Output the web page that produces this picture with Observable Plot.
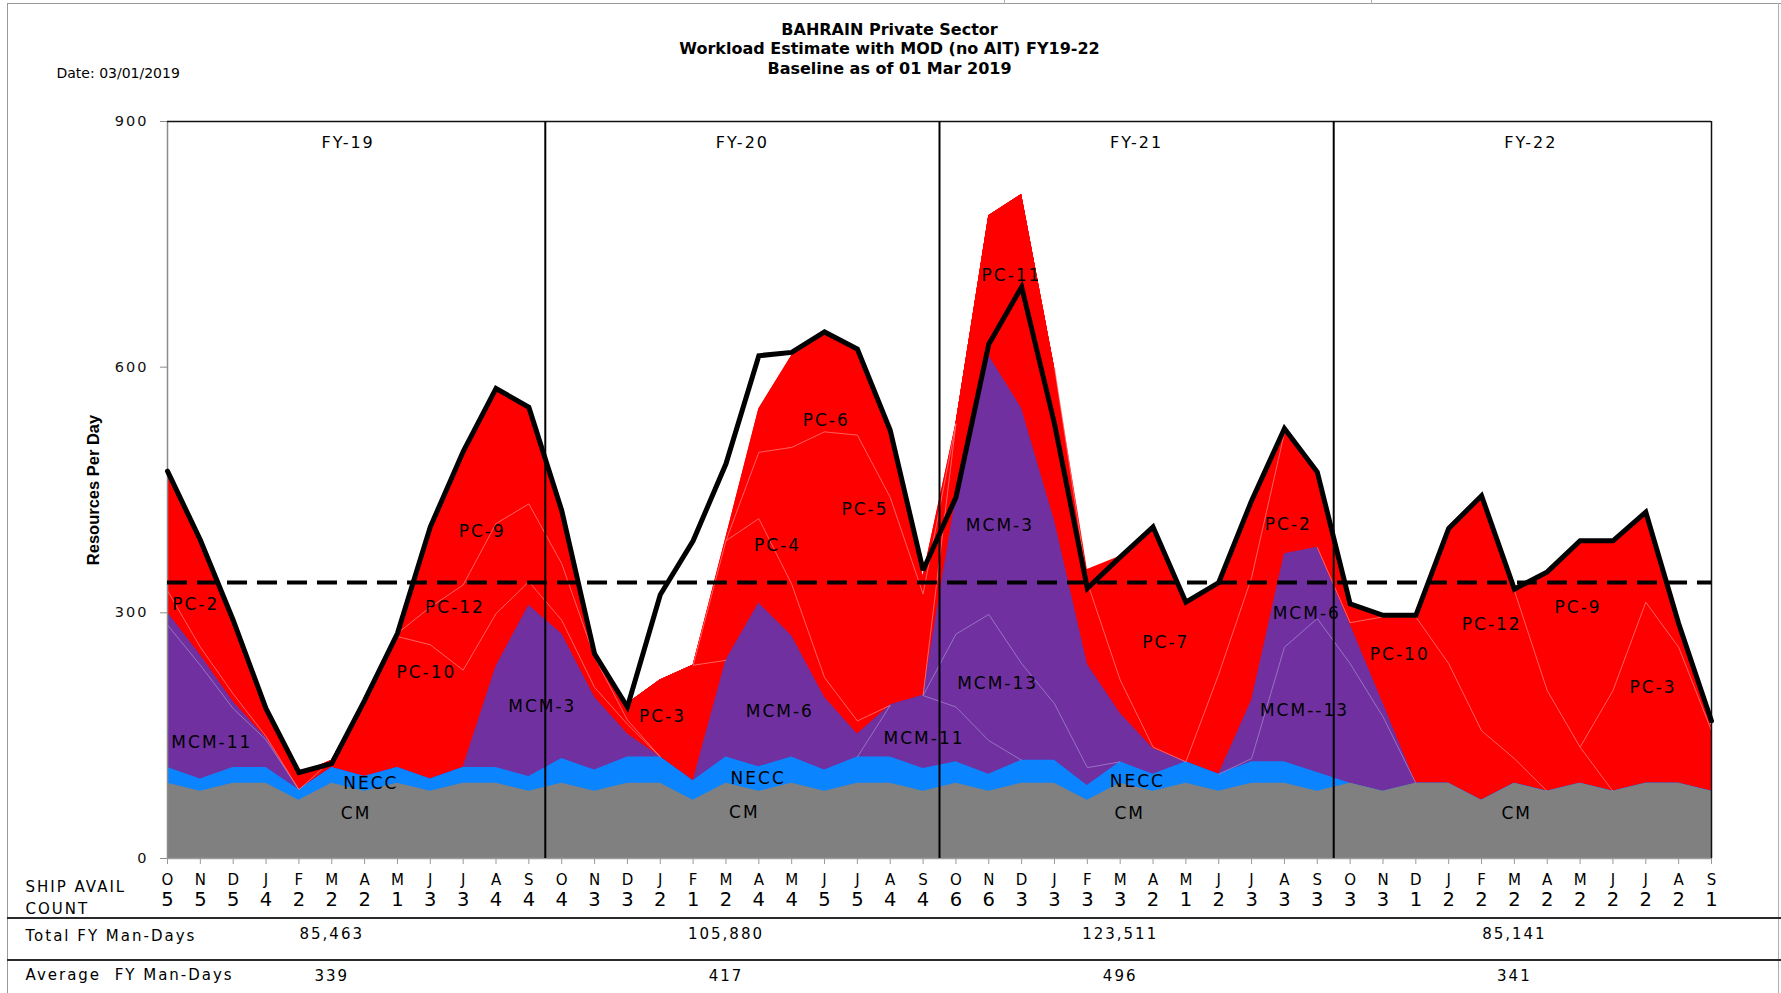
<!DOCTYPE html>
<html><head><meta charset="utf-8">
<script src="https://cdn.jsdelivr.net/npm/d3@7"></script>
<script src="https://cdn.jsdelivr.net/npm/@observablehq/plot@0.6"></script>
<style>
html,body{margin:0;padding:0;background:#fff;}
#wrap{position:relative;width:1781px;height:993px;overflow:hidden;background:#fff;}
.deco{position:absolute;pointer-events:none;}
g[aria-label="y-axis tick label"] text{letter-spacing:2px;}
</style></head><body>
<div id="wrap"></div>
<script>
// ---------- DATA ----------
const monthLetters = ["O","N","D","J","F","M","A","M","J","J","A","S",
                      "O","N","D","J","F","M","A","M","J","J","A","S",
                      "O","N","D","J","F","M","A","M","J","J","A","S",
                      "O","N","D","J","F","M","A","M","J","J","A","S"];
const shipAvailCount = [5,5,5,4,2,2,2,1,3,3,4,4,
                        4,3,3,2,1,2,4,4,5,5,4,4,
                        6,6,3,3,3,3,2,1,2,3,3,3,
                        3,3,1,2,2,2,2,2,2,2,2,1];
const fyNames = ["FY-19","FY-20","FY-21","FY-22"];
const fyStartMonth = [0,12,24,36];
const totalFYManDays = ["85,463","105,880","123,511","85,141"];
const averageFYManDays = ["339","417","496","341"];
const yTicks = [0,300,600,900];
const dashedLevel = 337;

const cm = [92,82,92,92,71,92,82,92,82,92,92,82,
            92,82,92,92,71,92,82,92,82,92,92,82,
            92,82,92,92,71,92,82,92,82,92,92,82,
            92,82,92,92,71,92,82,92,82,92,92,82];
const necc = [19,15,19,19,13,19,18,19,15,19,19,18,
              30,26,32,32,24,32,30,32,26,32,32,28,
              26,21,28,28,18,26,21,26,21,26,26,23,
              0,0,0,0,0,0,0,0,0,0,0,0];
const mcm11 = [174,139,72,34,0,0,0,0,0,0,0,0,
               0,0,0,0,0,0,0,0,0,0,63,89,
               67,41,0,0,0,0,0,0,0,0,0,0,
               0,0,0,0,0,0,0,0,0,0,0,0];
const mcm13 = [15,12,8,2,0,0,0,0,0,0,0,0,
               0,0,0,0,0,0,0,0,0,0,0,0,
               89,154,118,69,22,0,0,0,0,4,140,188,
               146,91,0,0,0,0,0,0,0,0,0,0];
const mcm3 = [0,0,0,0,0,0,0,0,0,0,123,209,
              152,89,28,0,0,0,0,0,0,0,0,0,
              166,316,311,223,126,59,31,0,0,0,0,0,
              0,0,0,0,0,0,0,0,0,0,0,0];
const mcm6 = [0,0,0,0,0,0,0,0,0,0,0,0,
              0,0,0,0,0,118,200,148,89,28,0,0,
              0,0,0,0,0,0,0,0,0,71,114,87,
              48,17,0,0,0,0,0,0,0,0,0,0];
const pcOther = [27,10,10,2,0,0,0,0,0,0,0,0,
                 0,0,0,0,0,0,0,0,0,0,0,0,
                 0,0,0,0,0,0,0,0,0,0,0,0,
                 0,0,0,0,0,0,0,0,0,0,0,0];
const pc10 = [0,0,0,0,0,9,93,160,164,119,65,29,
              17,12,12,0,0,0,0,0,0,0,0,0,
              0,0,0,0,0,0,0,0,0,0,0,0,
              2,105,203,146,85,30,0,0,0,0,0,0];
const pc12 = [0,0,0,0,0,0,0,4,46,104,110,95,
              69,37,5,0,0,0,0,0,0,0,0,0,
              0,0,0,0,0,0,0,0,0,0,0,0,
              0,0,0,165,287,205,123,44,0,0,0,0];
const pc3 = [0,0,0,0,0,0,0,0,0,0,0,0,
             0,0,20,94,141,0,0,0,0,0,0,0,
             0,0,0,0,0,0,0,0,0,0,0,0,
             0,0,0,0,0,0,0,0,123,221,166,74];
const pc9 = [0,0,0,0,0,0,0,0,98,163,165,119,
             65,4,0,0,0,0,0,0,0,0,0,0,
             0,0,0,0,0,0,0,0,0,0,0,0,
             0,0,0,0,0,2,145,252,183,110,29,4];
const pc11 = [0,0,0,0,0,0,0,0,0,0,0,0,
              0,0,0,0,0,0,0,0,0,0,0,0,
              91,171,262,188,100,41,2,0,0,0,0,0,
              0,0,0,0,0,0,0,0,0,0,0,0];
const pc2 = [142,127,86,31,18,0,0,0,0,0,0,0,
             0,0,0,0,0,0,0,0,0,0,0,0,
             0,0,0,0,0,0,0,0,122,150,148,90,
             25,2,2,0,0,0,0,0,0,0,0,0];
const pc4 = [0,0,0,0,0,0,0,0,0,0,0,0,
             0,0,0,0,0,146,103,63,24,16,0,0,
             0,0,0,0,0,0,0,0,0,0,0,0,
             0,0,0,0,0,0,0,0,0,0,0,0];
const pc5 = [0,0,0,0,0,0,0,0,0,0,0,0,
             0,0,0,0,0,0,81,167,300,349,254,124,
             0,0,0,0,0,0,0,0,0,0,0,0,
             0,0,0,0,0,0,0,0,0,0,0,0];
const pc6 = [0,0,0,0,0,0,0,0,0,0,0,0,
             0,0,0,0,0,4,53,112,122,104,82,22,
             0,0,0,0,0,0,0,0,0,0,0,0,
             0,0,0,0,0,0,0,0,0,0,0,0];
const pc7 = [0,0,0,0,0,0,0,0,0,0,0,0,
             0,0,0,0,0,0,0,0,0,0,0,0,
             0,0,0,0,16,151,268,195,112,94,0,0,
             0,0,0,0,0,0,0,0,0,0,0,0];
const blackLine = [473,389,291,183,105,116,193,275,405,497,574,551,
                   425,250,185,322,388,482,614,618,643,622,523,352,
                   441,628,698,531,330,368,405,313,337,437,525,472,
                   311,297,297,403,443,329,350,388,388,423,287,168];
// in-chart labels: [text, month index, value]
const areaLabels = [
  ["PC-2",0.86,310],["MCM-11",1.35,141],["NECC",6.19,92],["CM",5.74,55],["PC-10",7.88,227],["PC-12",8.75,306],["PC-9",9.58,399],["MCM-3",11.41,185],
  ["PC-3",15.07,173],["MCM-6",18.64,180],["NECC",17.98,98],["CM",17.56,56],["PC-4",18.57,382],["PC-6",20.05,535],["PC-5",21.23,426],["MCM-11",23.03,146],
  ["PC-11",25.69,712],["MCM-3",25.34,407],["MCM-13",25.27,214],["NECC",29.52,94],["CM",29.29,55],["PC-7",30.39,264],["PC-2",34.12,408],["MCM-6",34.68,299],["MCM--13",34.61,181],
  ["PC-10",37.51,249],["PC-12",40.31,286],["PC-9",42.94,306],["PC-3",45.22,209],["CM",41.07,55]
];
const rowLabels = ["SHIP AVAIL","COUNT","Total FY Man-Days","Average  FY Man-Days"];

// ---------- STYLE ----------
const groupFill = {CM:"#808080", NECC:"#0a84ff", MCM:"#7030a0", PC:"#ff0000"};
const groupSub = {MCM:"#a184cc", PC:"#ff7a7a"};

const series = [
  {name:"CM", group:"CM", values:cm},
  {name:"NECC", group:"NECC", values:necc},
  {name:"MCM-11", group:"MCM", values:mcm11},
  {name:"MCM-13", group:"MCM", values:mcm13},
  {name:"MCM-3", group:"MCM", values:mcm3},
  {name:"MCM-6", group:"MCM", values:mcm6},
  {name:"PC-other", group:"PC", values:pcOther},
  {name:"PC-10", group:"PC", values:pc10},
  {name:"PC-12", group:"PC", values:pc12},
  {name:"PC-3", group:"PC", values:pc3},
  {name:"PC-9", group:"PC", values:pc9},
  {name:"PC-11", group:"PC", values:pc11},
  {name:"PC-2", group:"PC", values:pc2},
  {name:"PC-4", group:"PC", values:pc4},
  {name:"PC-5", group:"PC", values:pc5},
  {name:"PC-6", group:"PC", values:pc6},
  {name:"PC-7", group:"PC", values:pc7}
];
const N = monthLetters.length;
const months = d3.range(N);

// stack
const base = new Array(N).fill(0);
series.forEach(s => {
  s.top = s.values.map((v, i) => base[i] + v);
  s.top.forEach((t, i) => base[i] = t);
});
series.forEach((s, k) => {
  s.above = months.map(i => d3.sum(series.slice(k + 1).filter(o => o.group === s.group), o => o.values[i]));
});
const subSegments = [];
series.filter(s => s.group === "MCM" || s.group === "PC").forEach(s => {
  for (let i = 0; i < N - 1; i++) {
    const active = s.values[i] > 0 || s.values[i + 1] > 0;
    const covered = s.above[i] > 0 || s.above[i + 1] > 0;
    if (active && covered) subSegments.push({x1:i, y1:s.top[i], x2:i + 1, y2:s.top[i + 1], group:s.group});
  }
});

const W = 1781, H = 993, mL = 167, mR = 70, mT = 121, mB = 135;
const at = (str, px, py, o = {}) => Plot.text([str], {frameAnchor:"top-left", dx:px - mL, dy:py - mT, lineAnchor:"middle", text:d => d, ...o});
const fyInfo = fyNames.map((n, k) => ({name:n, start:fyStartMonth[k], total:totalFYManDays[k], avg:averageFYManDays[k]}));

const marks = [];
[...series].reverse().forEach(s => {
  marks.push(Plot.areaY(months, {x:i => i, y1:0, y2:i => s.top[i], fill:groupFill[s.group], curve:"linear"}));
});
marks.push(Plot.link(subSegments, {x1:"x1", y1:"y1", x2:"x2", y2:"y2", stroke:d => groupSub[d.group], strokeWidth:0.8}));
marks.push(Plot.ruleX([0], {stroke:"#8c8c8c", strokeWidth:1.5}));
marks.push(Plot.ruleY([0], {stroke:"#9a9a9a", strokeWidth:1.5}));
marks.push(Plot.axisY({ticks:yTicks, tickSize:7, tickPadding:12, stroke:"#8c8c8c", fill:"#111", fontSize:14.5, fontFamily:"DejaVu Sans"}));
marks.push(Plot.axisX({ticks:months, tickSize:6, tickFormat:() => "", stroke:"#9a9a9a"}));
marks.push(Plot.ruleY([900], {stroke:"#111", strokeWidth:1.5}));
marks.push(Plot.ruleX([N - 1], {stroke:"#111", strokeWidth:1.5}));
marks.push(Plot.ruleY([dashedLevel], {stroke:"#000", strokeWidth:4, strokeDasharray:"20,10"}));
marks.push(Plot.text(areaLabels, {x:d => d[1], y:d => d[2], text:d => d[0], fontSize:17, fontFamily:"DejaVu Sans", fill:"#000"}));
marks.push(Plot.ruleX(fyStartMonth.slice(1), {x:d => d - 0.5, stroke:"#000", strokeWidth:2}));
marks.push(Plot.lineY(blackLine, {x:(d, i) => i, y:d => d, stroke:"#000", strokeWidth:5, strokeLinejoin:"miter", strokeMiterlimit:3}));
marks.push(Plot.text(fyInfo, {x:d => d.start + 5.5, y:900, dy:21, text:"name", fontSize:16, fontFamily:"DejaVu Sans"}));
marks.push(Plot.text(months, {x:i => i, frameAnchor:"bottom", lineAnchor:"middle", dy:22, text:i => monthLetters[i], fontSize:15, fontFamily:"DejaVu Sans"}));
marks.push(Plot.text(months, {x:i => i, frameAnchor:"bottom", lineAnchor:"middle", dy:41, text:i => String(shipAvailCount[i]), fontSize:19.5, fontFamily:"DejaVu Sans"}));
marks.push(Plot.text(fyInfo, {x:d => d.start + 5, frameAnchor:"bottom", lineAnchor:"middle", dy:76, text:"total", fontSize:15, fontFamily:"DejaVu Sans"}));
marks.push(Plot.text(fyInfo, {x:d => d.start + 5, frameAnchor:"bottom", lineAnchor:"middle", dy:118, text:"avg", fontSize:15, fontFamily:"DejaVu Sans"}));
const rowLab = {textAnchor:"start", fontSize:15, fontFamily:"DejaVu Sans"};
marks.push(at(rowLabels[0], 25, 887, rowLab));
marks.push(at(rowLabels[1], 25, 909, rowLab));
marks.push(at(rowLabels[2], 25, 936, rowLab));
marks.push(at(rowLabels[3], 25, 975, rowLab));
const tt = {fontSize:16, fontWeight:"bold", fontFamily:"DejaVu Sans", textAnchor:"middle"};
marks.push(at("BAHRAIN Private Sector", 889, 29, tt));
marks.push(at("Workload Estimate with MOD (no AIT) FY19-22", 889, 48, tt));
marks.push(at("Baseline as of 01 Mar 2019", 889, 68, tt));
marks.push(at("Date: 03/01/2019", 56, 73, {fontSize:14, fontFamily:"DejaVu Sans", textAnchor:"start"}));
marks.push(Plot.text(["Resources Per Day"], {frameAnchor:"left", dx:-74, text:d => d, rotate:-90, textAnchor:"middle", lineAnchor:"middle", fontSize:16.5, fontWeight:"bold", fontFamily:"Liberation Sans Narrow, Liberation Sans, sans-serif"}));

const chart = Plot.plot({
  width:W, height:H,
  marginLeft:mL, marginRight:mR, marginTop:mT, marginBottom:mB,
  x:{domain:[0, N - 1], axis:null},
  y:{domain:[0, 900], axis:null},
  style:{background:"white", fontFamily:"DejaVu Sans", overflow:"visible"},
  marks
});
// wider letter spacing for the stretched texts of the reference
const spaced = new Set([...areaLabels.map(d => d[0]), ...fyNames, ...rowLabels, ...totalFYManDays, ...averageFYManDays]);
d3.select(chart).selectAll("text").each(function() {
  if (spaced.has(this.textContent)) this.style.letterSpacing = "2px";
});
const wrap = document.getElementById("wrap");
wrap.appendChild(chart);
const deco = (css) => { const d = document.createElement("div"); d.className = "deco"; d.style.cssText = css; wrap.appendChild(d); };
deco("left:7px;top:3px;width:1774px;height:0;border-top:1.5px solid #9a9a9a;");
deco("left:7px;top:3px;width:0;height:990px;border-left:1.5px solid #9a9a9a;");
deco("left:1778px;top:3px;width:0;height:990px;border-left:1.5px solid #b0b0b0;");
deco("left:1004px;top:0;width:0;height:4px;border-left:1px solid #b0b0b0;");
deco("left:1371px;top:0;width:0;height:4px;border-left:1px solid #b0b0b0;");
deco("left:7px;top:917px;width:1774px;height:0;border-top:2px solid #2a2a2a;");
deco("left:7px;top:959px;width:1774px;height:0;border-top:2px solid #2a2a2a;");
</script>
</body></html>
